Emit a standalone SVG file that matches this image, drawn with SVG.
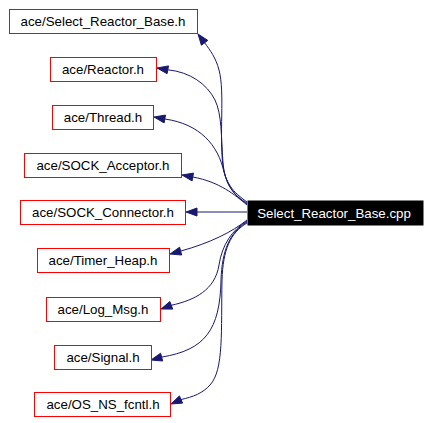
<svg xmlns="http://www.w3.org/2000/svg" width="431" height="423" viewBox="0 0 431 423">
<style>
.box{fill:#ffffff;stroke:#ff0000;stroke-width:1}
.main{fill:#000000;stroke:#000000;stroke-width:1}
.lbl{font-family:"Liberation Sans",Arial,sans-serif;font-size:13.3px;fill:#000000;text-anchor:middle}
.mlbl{font-family:"Liberation Sans",Arial,sans-serif;font-size:13.3px;fill:#ffffff;text-anchor:middle}
.edge{fill:none;stroke:#191970;stroke-width:1}
.head{fill:#191970;stroke:#191970;stroke-width:1}
</style>
<rect width="431" height="423" fill="#ffffff"/>
<g id="edges">
<path class="edge" d="M247,202 C236,194 226,186 223,166 C219,136 225,92 219,70 C216,58 210,50 204.6,42.8"/>
<polygon class="head" points="198,34 207.8,40.4 201.4,45.2"/>
<path class="edge" d="M247,203 C234,196 225,185 223,163 C221,135 222,115 215,100 C207,84 190,72 167.8,69.8"/>
<polygon class="head" points="157,68 168.5,65.9 167.1,73.7"/>
<path class="edge" d="M247,204 C235,196 228,187 224,172 C218,145 200,124 164.8,119"/>
<polygon class="head" points="154,117 165.5,115.1 164.1,122.9"/>
<path class="edge" d="M247,205 C235,195 220,182 192.8,177"/>
<polygon class="head" points="182,175 193.5,173.1 192.1,180.9"/>
<path class="edge" d="M247,212 L197,212"/>
<polygon class="head" points="186,212 197,208 197,216"/>
<path class="edge" d="M247,220 C232,232 210,243 180.6,251.1"/>
<polygon class="head" points="170,254 181.7,255 179.6,247.2"/>
<path class="edge" d="M247,221 C232,230 222,245 219,265 C215,290 195,300 171.3,305.3"/>
<polygon class="head" points="161,309 172.7,309.1 169.9,301.5"/>
<path class="edge" d="M247,222 C230,232 222,250 221,280 C220,330 205,350 161.6,357.1"/>
<polygon class="head" points="151,360 162.7,361 160.6,353.2"/>
<path class="edge" d="M247,223 C230,233 223,250 222,280 C221,330 224,370 210,385 C203,393 193,397 181,399.5"/>
<polygon class="head" points="171,404 182.6,403.1 179.4,395.9"/>
</g>
<g id="main">
<rect class="main" x="248" y="201" width="175" height="24"/>
<text class="mlbl" x="334" y="218">Select_Reactor_Base.cpp</text>
</g>
<g id="n1">
<rect class="box" x="9.5" y="9.5" width="188" height="24"/>
<text class="lbl" x="103" y="26">ace/Select_Reactor_Base.h</text>
</g>
<g id="n2">
<rect class="box" x="50.5" y="57.5" width="106" height="24"/>
<text class="lbl" x="103" y="74">ace/Reactor.h</text>
</g>
<g id="n3">
<rect class="box" x="52.5" y="105.5" width="101" height="24"/>
<text class="lbl" x="103" y="122">ace/Thread.h</text>
</g>
<g id="n4">
<rect class="box" x="24.5" y="153.5" width="157" height="24"/>
<text class="lbl" x="103" y="170">ace/SOCK_Acceptor.h</text>
</g>
<g id="n5">
<rect class="box" x="20.5" y="200.5" width="165" height="24"/>
<text class="lbl" x="103" y="217">ace/SOCK_Connector.h</text>
</g>
<g id="n6">
<rect class="box" x="37.5" y="248.5" width="132" height="24"/>
<text class="lbl" x="103" y="265">ace/Timer_Heap.h</text>
</g>
<g id="n7">
<rect class="box" x="46.5" y="297.5" width="114" height="24"/>
<text class="lbl" x="103" y="314">ace/Log_Msg.h</text>
</g>
<g id="n8">
<rect class="box" x="54.5" y="345.5" width="97" height="24"/>
<text class="lbl" x="103" y="362">ace/Signal.h</text>
</g>
<g id="n9">
<rect class="box" x="34.5" y="392.5" width="136" height="24"/>
<text class="lbl" x="103" y="409">ace/OS_NS_fcntl.h</text>
</g>
</svg>
